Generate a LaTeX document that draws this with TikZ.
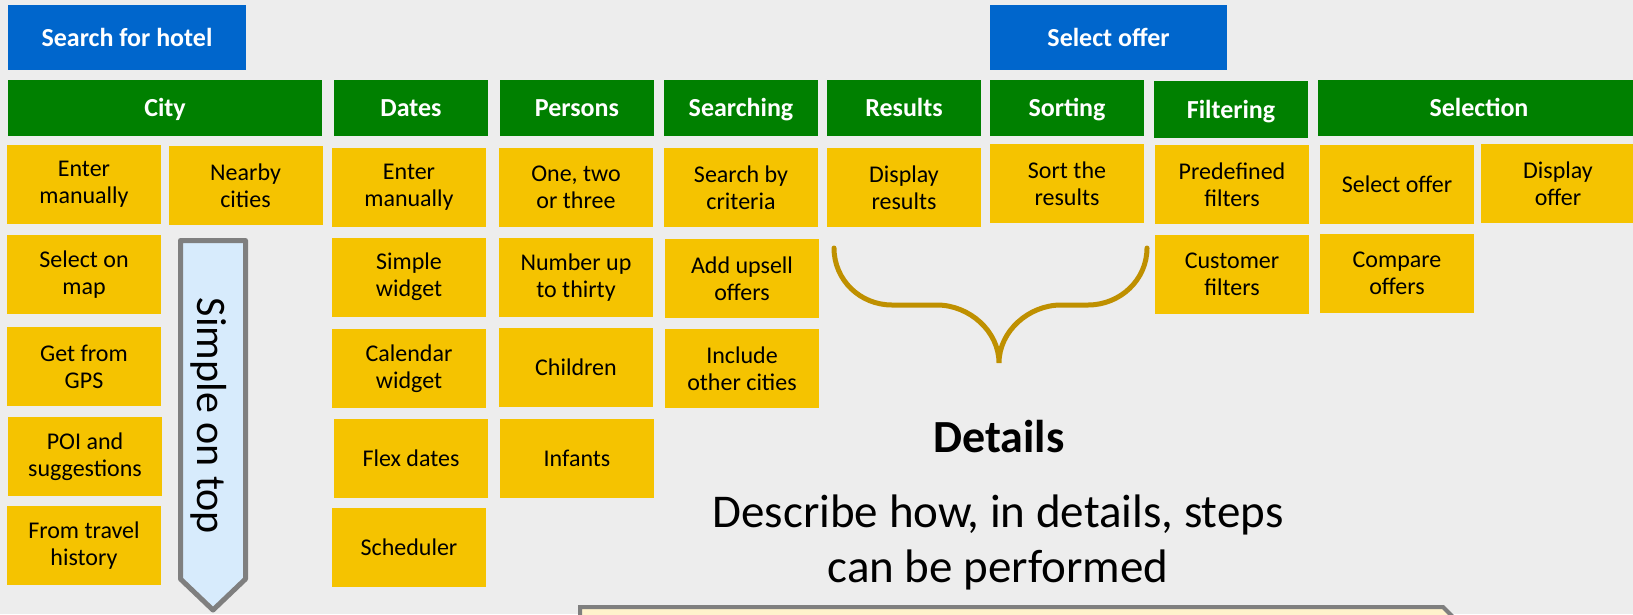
\documentclass[tikz,border=0pt]{standalone}
\usepackage{fontspec}
\setmainfont{Carlito}
\usepackage{tikz}
\usetikzlibrary{calc}

\definecolor{slidebg}{HTML}{EDEDED}
\definecolor{goalblue}{HTML}{0066CC}
\definecolor{headgreen}{HTML}{008000}
\definecolor{cardyellow}{HTML}{F5C300}
\definecolor{bracegold}{HTML}{BF9000}
\definecolor{framegray}{HTML}{7F7F7F}
\definecolor{arrowblue}{HTML}{D7EBFC}
\definecolor{notefill}{HTML}{FFF2CC}

\tikzset{
  goal/.style={fill=goalblue, text=white, minimum height=65pt, inner sep=0pt,
    text height=22pt, text depth=5pt, font=\bfseries\fontsize{26}{30}\selectfont},
  head/.style={fill=headgreen, text=white, minimum height=56pt, inner sep=0pt,
    text height=22pt, text depth=5pt, font=\bfseries\fontsize{26}{30}\selectfont},
  card/.style={fill=cardyellow, minimum width=154pt, minimum height=79pt, inner sep=0pt,
    align=center, font=\fontsize{24}{27}\selectfont},
  bigtext/.style={font=\fontsize{47}{55}\selectfont, anchor=base},
}

\begin{document}
\begin{tikzpicture}[x=1pt,y=-1pt] % one unit = one pixel of the slide
        % Slide background
        \fill[slidebg] (0,0) rectangle (1633,614);
        \clip (0,0) rectangle (1633,614);

        % Goals
        \node[goal, minimum width=238pt] (hotel) at (127,37.5) {Search for hotel};
        \node[goal, minimum width=237pt] (offer) at (1108.5,37.5) {Select offer};

        % Steps
        \node[head, minimum width=314pt] (city) at (165,108) {City};
        \foreach \name/\x/\txt in {dates/411/Dates, persons/577/Persons, searching/741/Searching,
                                   results/904/Results, sorting/1067/Sorting} {
            \node[head, minimum width=154pt] (\name) at (\x,108) {\txt};
        }
        \node[head, minimum width=154pt, minimum height=57pt] (filtering) at (1231,109.5) {Filtering};
        \node[head, minimum width=322pt] (selection) at (1479,108) {Selection};

        % Details of every step
        \foreach \name/\x/\y/\txt in {
            cityA/84/184.5/{Enter\\manually}, cityB/84/274.5/{Select on\\map},
            cityC/84/366.5/{Get from\\GPS}, cityD/85/456.5/{POI and\\suggestions},
            cityE/84/545.5/{From travel\\history}, cityF/245.5/185.5/{Nearby\\cities},
            datesA/409/187.5/{Enter\\manually}, datesB/409/277/{Simple\\widget},
            datesC/409/368.5/{Calendar\\widget}, datesD/411/458.5/{Flex dates},
            datesE/409/547.5/{Scheduler},
            personsA/576/187.5/{One, two\\or three}, personsB/576/277.5/{Number up\\to thirty},
            personsC/576/367.5/{Children}, personsD/577/458.5/{Infants},
            searchA/741/187.5/{Search by\\criteria}, searchB/742/278.5/{Add upsell\\offers},
            searchC/742/368.5/{Include\\other cities},
            resultsA/904/187.5/{Display\\results},
            sortA/1067/183.5/{Sort the\\results},
            filterA/1232/184.5/{Predefined\\filters}, filterB/1232/274.5/{Customer\\filters},
            selectA/1397/184.5/{Select offer}, selectB/1558/183.5/{Display\\offer},
            selectC/1397/273.5/{Compare\\offers}} {
            \node[card] (\name) at (\x,\y) {\txt};
        }

        % Simple on top arrow
        \draw[line width=5pt, draw=framegray, fill=arrowblue, line join=round]
            (180.5,240.5) -- (245.5,240.5) -- (245.5,579) -- (213,610) -- (180.5,579) -- cycle;
        \node[rotate=-90, font=\fontsize{42}{50}\selectfont] (simple) at (209,416) {Simple on top};

        % Brace
        \draw[line width=5pt, bracegold, line cap=round]
            (834,248) .. controls (834,280) and (860,305) .. (892,305) -- (937,305)
            .. controls (969,305) and (999,331) .. (999,363)
            .. controls (999,331) and (1029,305) .. (1061,305) -- (1088,305)
            .. controls (1120,305) and (1147,280) .. (1147,248);

        % Details
        \node[bigtext, font=\bfseries\fontsize{46}{55}\selectfont] (details) at (999,452) {Details};
        \node[bigtext] (describe) at (998,527) {Describe how, in details, steps};
        \node[bigtext] (performed) at (998,582) {can be performed};

        % Note box
        \draw[line width=4pt, draw=framegray, fill=notefill]
            (580,640) -- (580,607) -- (1443,607) -- (1476,640) -- cycle;
\end{tikzpicture}
\end{document}
